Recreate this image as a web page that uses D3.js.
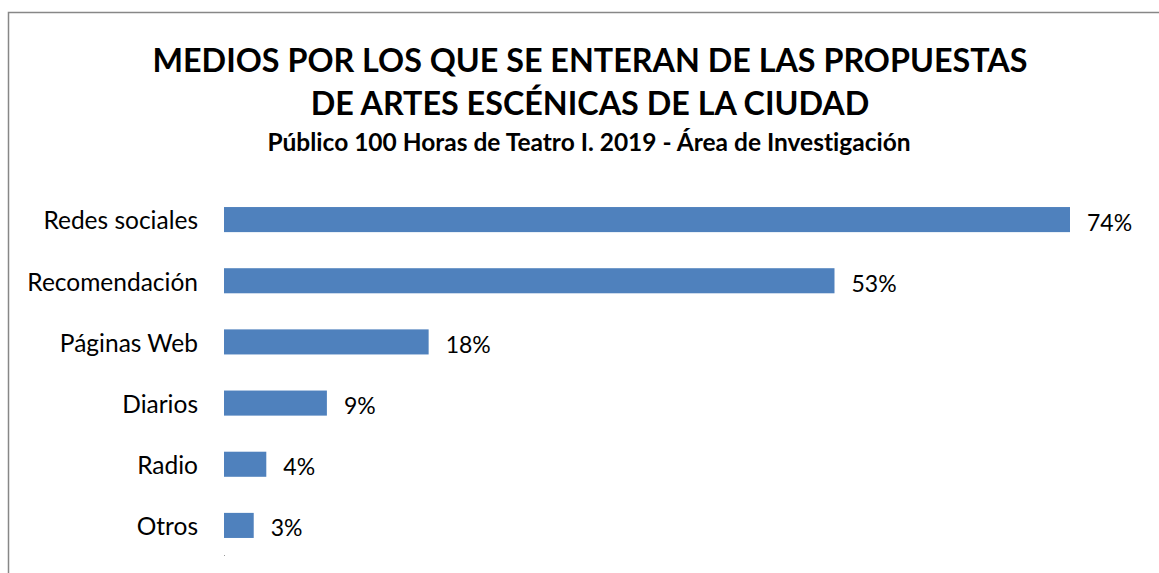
<!DOCTYPE html>
<html>
<head>
<meta charset="utf-8">
<script src="https://cdn.jsdelivr.net/npm/d3@7"></script>
<style>
  body { margin: 0; background: #fff; }
  svg { display: block; font-family: Lato, "Open Sans", sans-serif; font-variant-ligatures: none; }
</style>
</head>
<body>
<svg id="chart"></svg>
<script>
const width = 1159;
const height = 573;

// data (percent of respondents)
const categories = ["Redes sociales", "Recomendación", "Páginas Web", "Diarios", "Radio", "Otros"];
const values = [74.0, 53.4, 17.9, 9.0, 3.7, 2.6];

const titleLines = ["MEDIOS POR LOS QUE SE ENTERAN DE LAS PROPUESTAS", "DE ARTES ESCÉNICAS DE LA CIUDAD"];
const subtitle = "Público 100 Horas de Teatro I. 2019 - Área de Investigación";

const data = categories.map((c, i) => ({ name: c, value: values[i] }));

const svg = d3.select("#chart").attr("width", width).attr("height", height);

// frame (only top and left edges are visible in the crop)
svg.append("path")
  .attr("d", `M8.5,${height} V12.5 H${width}`)
  .attr("fill", "none")
  .attr("stroke", "#878787")
  .attr("stroke-width", 1.5);

// titles
svg.selectAll("text.title")
  .data(titleLines)
  .enter()
  .append("text")
  .attr("class", "title")
  .attr("x", 590)
  .attr("y", (d, i) => 72 + i * 43)
  .attr("text-anchor", "middle")
  .attr("font-size", 32.3)
  .attr("font-weight", "bold")
  .attr("fill", "#000")
  .text((d) => d);

svg.append("text")
  .attr("x", 589)
  .attr("y", 151)
  .attr("text-anchor", "middle")
  .attr("font-size", 24.5)
  .attr("font-weight", "bold")
  .attr("fill", "#000")
  .text(subtitle);

const x = d3.scaleLinear().domain([0, 74]).range([224, 1070]);

const y = d3.scaleBand()
  .domain(categories)
  .range([189, 556])
  .paddingInner(0.59)
  .paddingOuter(0.295);

// category axis, no line, no ticks
const yAxis = d3.axisLeft(y).tickSize(0).tickPadding(26);
const gy = svg.append("g").attr("transform", `translate(${x(0)},0)`).call(yAxis);
gy.select(".domain").remove();
gy.selectAll("text")
  .attr("font-size", 24.5)
  .attr("dy", "0.4em")
  .attr("fill", "#000")
  .attr("font-family", "Lato, 'Open Sans', sans-serif");

// tiny remnant of the axis line below the last bar
svg.append("line")
  .attr("x1", x(0) + 0.5)
  .attr("x2", x(0) + 0.5)
  .attr("y1", y.range()[1] - 1)
  .attr("y2", y.range()[1])
  .attr("stroke", "#999");

// bars
svg.selectAll("rect.bar")
  .data(data)
  .enter()
  .append("rect")
  .attr("class", "bar")
  .attr("x", x(0))
  .attr("y", (d) => y(d.name))
  .attr("width", (d) => x(d.value) - x(0))
  .attr("height", y.bandwidth())
  .attr("fill", "#4F81BD");

// value labels
svg.selectAll("text.val")
  .data(data)
  .enter()
  .append("text")
  .attr("class", "val")
  .attr("x", (d) => x(d.value) + 17)
  .attr("y", (d) => y(d.name) + y.bandwidth() / 2)
  .attr("dy", "0.48em")
  .attr("font-size", 23)
  .attr("fill", "#000")
  .text((d) => d3.format(".0f")(d.value) + "%");
</script>
</body>
</html>
